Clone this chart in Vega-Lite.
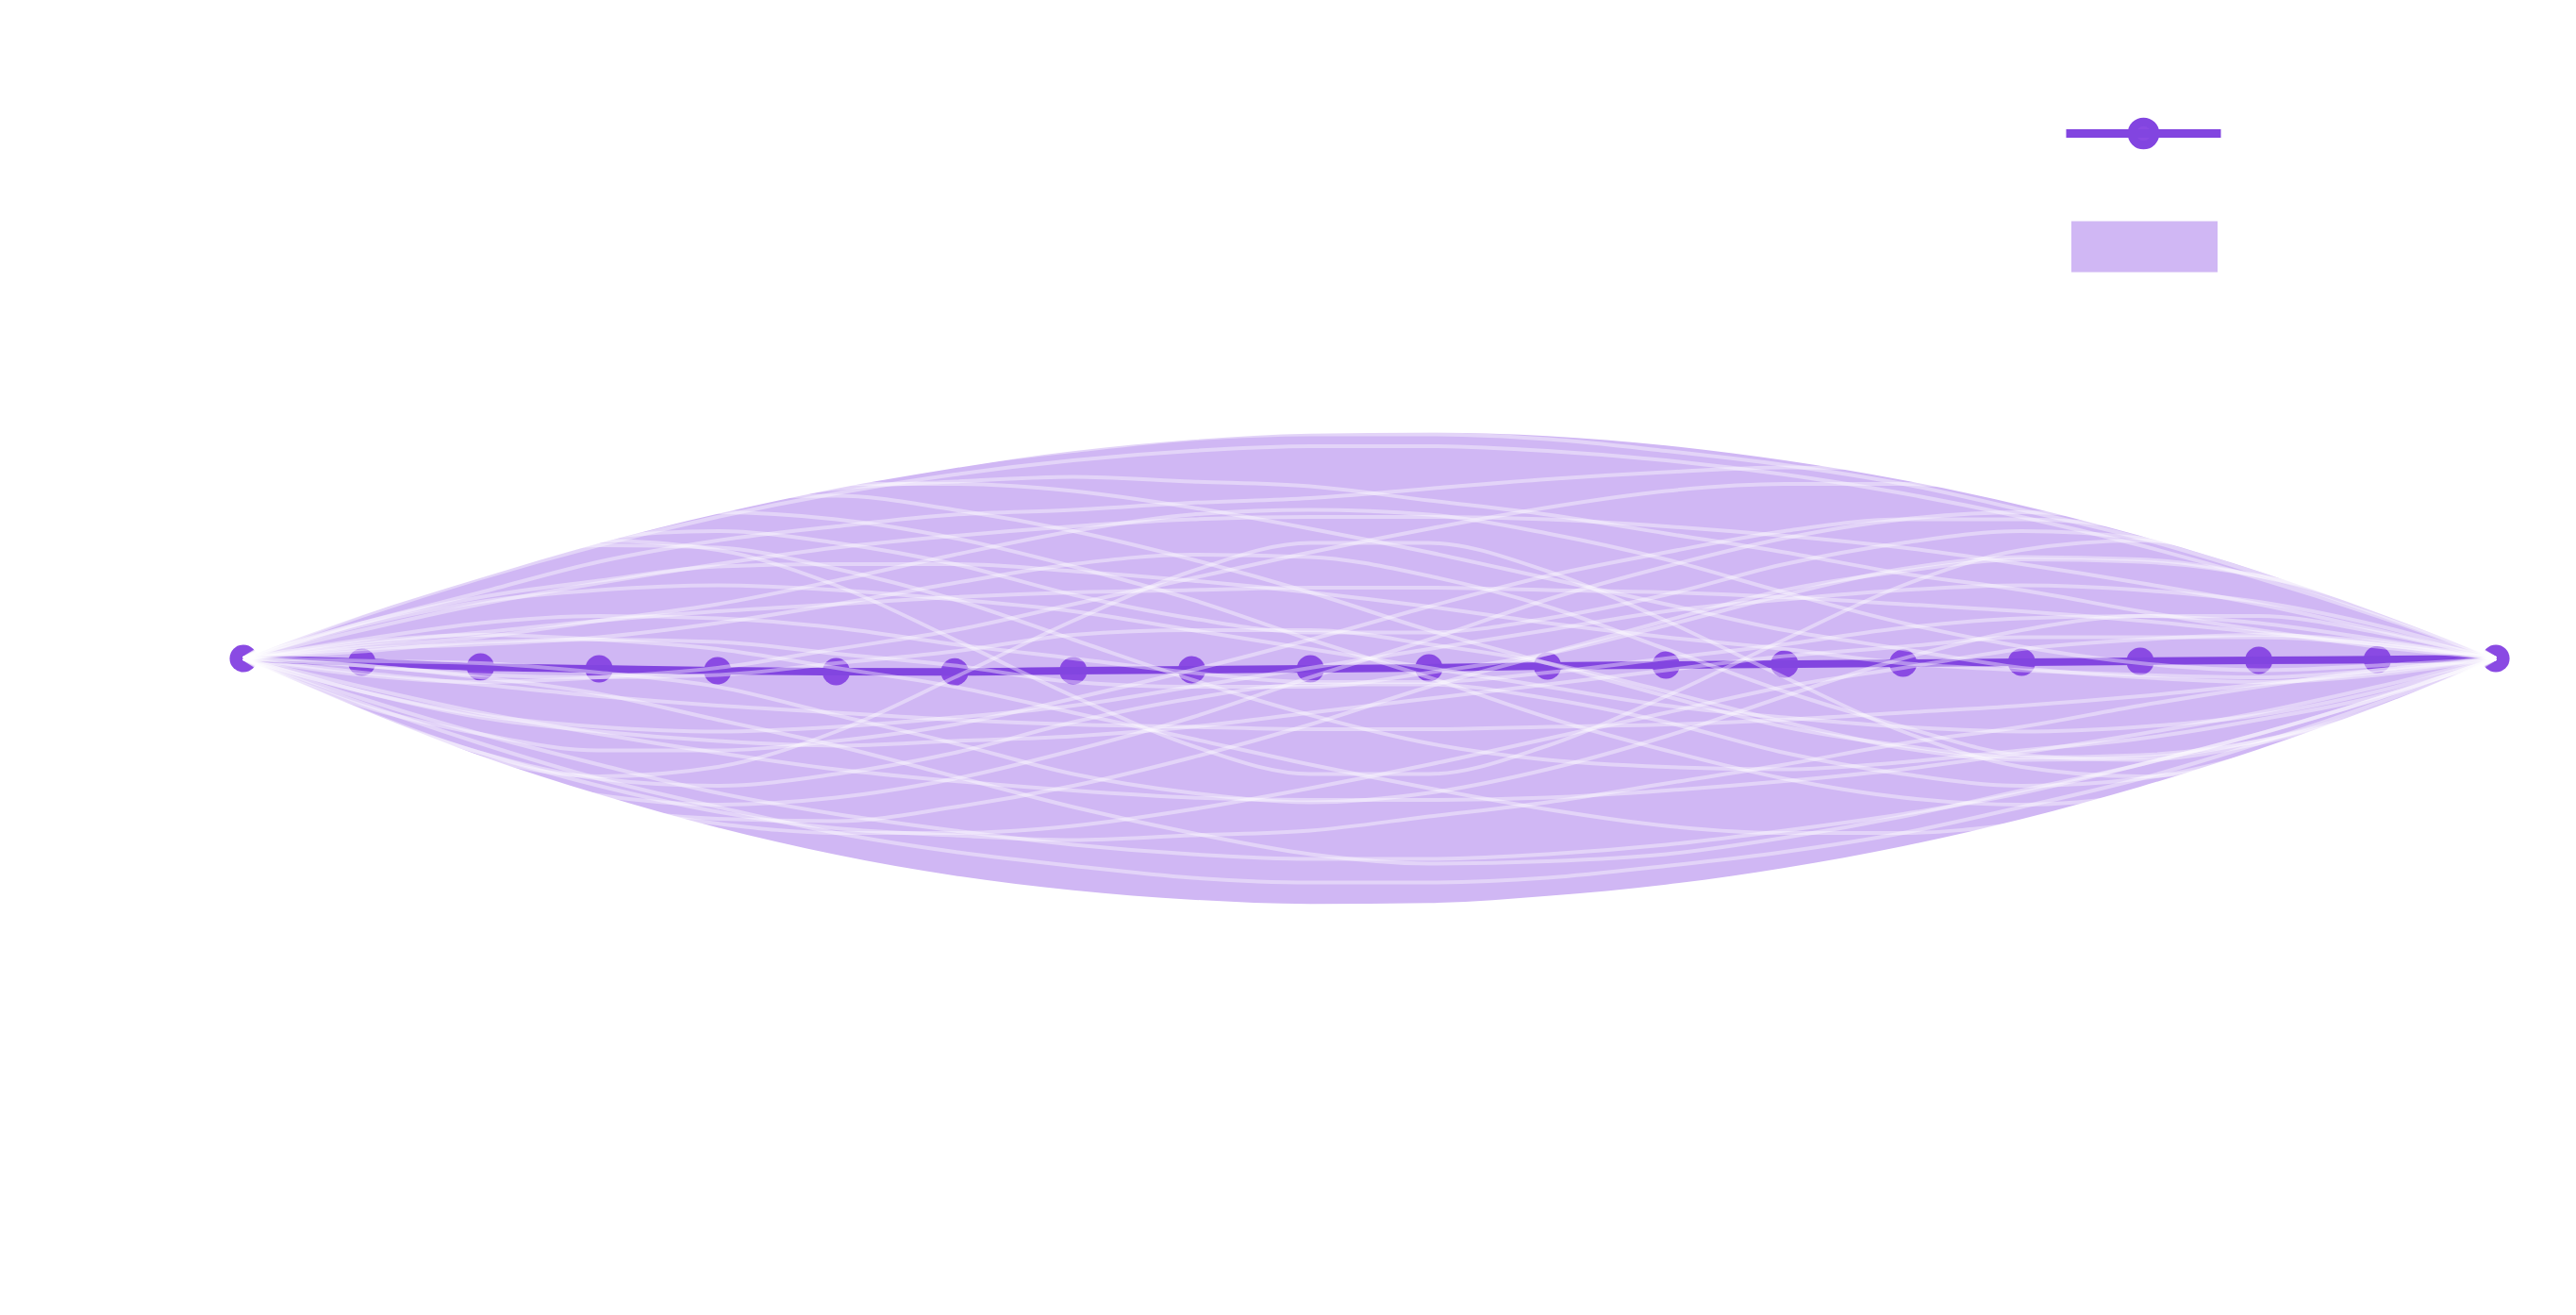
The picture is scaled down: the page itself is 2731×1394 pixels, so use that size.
{
  "$schema": "https://vega.github.io/schema/vega-lite/v6.json",
  "width": 2731,
  "height": 1394,
  "autosize": "none",
  "padding": 0,
  "background": "white",
  "config": {"view": {"stroke": null}},
  "datasets": {
    "band": [
      {"i":0,"mean":0,"lo":0,"hi":0},
      {"i":1,"mean":-0.016,"lo":-0.215,"hi":0.183},
      {"i":2,"mean":-0.036,"lo":-0.413,"hi":0.341},
      {"i":3,"mean":-0.044,"lo":-0.576,"hi":0.488},
      {"i":4,"mean":-0.052,"lo":-0.717,"hi":0.613},
      {"i":5,"mean":-0.056,"lo":-0.832,"hi":0.720},
      {"i":6,"mean":-0.057,"lo":-0.921,"hi":0.807},
      {"i":7,"mean":-0.052,"lo":-0.983,"hi":0.879},
      {"i":8,"mean":-0.048,"lo":-1.023,"hi":0.927},
      {"i":9,"mean":-0.044,"lo":-1.041,"hi":0.953},
      {"i":10,"mean":-0.040,"lo":-1.037,"hi":0.957},
      {"i":11,"mean":-0.032,"lo":-1.007,"hi":0.943},
      {"i":12,"mean":-0.028,"lo":-0.959,"hi":0.903},
      {"i":13,"mean":-0.024,"lo":-0.888,"hi":0.840},
      {"i":14,"mean":-0.020,"lo":-0.796,"hi":0.756},
      {"i":15,"mean":-0.016,"lo":-0.681,"hi":0.649},
      {"i":16,"mean":-0.012,"lo":-0.544,"hi":0.520},
      {"i":17,"mean":-0.008,"lo":-0.385,"hi":0.369},
      {"i":18,"mean":-0.005,"lo":-0.204,"hi":0.194},
      {"i":19,"mean":0,"lo":0,"hi":0}
    ],
    "samples": [
      {"s":1,"i":0,"v":0},{"s":1,"i":1,"v":0.18},{"s":1,"i":2,"v":0.34},{"s":1,"i":3,"v":0.48},{"s":1,"i":4,"v":0.60},{"s":1,"i":5,"v":0.70},{"s":1,"i":6,"v":0.78},{"s":1,"i":7,"v":0.84},{"s":1,"i":8,"v":0.88},{"s":1,"i":9,"v":0.90},{"s":1,"i":10,"v":0.90},{"s":1,"i":11,"v":0.88},{"s":1,"i":12,"v":0.84},{"s":1,"i":13,"v":0.78},{"s":1,"i":14,"v":0.70},{"s":1,"i":15,"v":0.60},{"s":1,"i":16,"v":0.48},{"s":1,"i":17,"v":0.34},{"s":1,"i":18,"v":0.18},{"s":1,"i":19,"v":0},
      {"s":2,"i":0,"v":0},{"s":2,"i":1,"v":0.12},{"s":2,"i":2,"v":0.23},{"s":2,"i":3,"v":0.32},{"s":2,"i":4,"v":0.40},{"s":2,"i":5,"v":0.47},{"s":2,"i":6,"v":0.52},{"s":2,"i":7,"v":0.56},{"s":2,"i":8,"v":0.59},{"s":2,"i":9,"v":0.60},{"s":2,"i":10,"v":0.60},{"s":2,"i":11,"v":0.59},{"s":2,"i":12,"v":0.56},{"s":2,"i":13,"v":0.52},{"s":2,"i":14,"v":0.47},{"s":2,"i":15,"v":0.40},{"s":2,"i":16,"v":0.32},{"s":2,"i":17,"v":0.23},{"s":2,"i":18,"v":0.12},{"s":2,"i":19,"v":0},
      {"s":3,"i":0,"v":0},{"s":3,"i":1,"v":0.06},{"s":3,"i":2,"v":0.11},{"s":3,"i":3,"v":0.16},{"s":3,"i":4,"v":0.20},{"s":3,"i":5,"v":0.23},{"s":3,"i":6,"v":0.26},{"s":3,"i":7,"v":0.28},{"s":3,"i":8,"v":0.29},{"s":3,"i":9,"v":0.30},{"s":3,"i":10,"v":0.30},{"s":3,"i":11,"v":0.29},{"s":3,"i":12,"v":0.28},{"s":3,"i":13,"v":0.26},{"s":3,"i":14,"v":0.23},{"s":3,"i":15,"v":0.20},{"s":3,"i":16,"v":0.16},{"s":3,"i":17,"v":0.11},{"s":3,"i":18,"v":0.06},{"s":3,"i":19,"v":0},
      {"s":4,"i":0,"v":0},{"s":4,"i":1,"v":-0.06},{"s":4,"i":2,"v":-0.11},{"s":4,"i":3,"v":-0.16},{"s":4,"i":4,"v":-0.20},{"s":4,"i":5,"v":-0.23},{"s":4,"i":6,"v":-0.26},{"s":4,"i":7,"v":-0.28},{"s":4,"i":8,"v":-0.29},{"s":4,"i":9,"v":-0.30},{"s":4,"i":10,"v":-0.30},{"s":4,"i":11,"v":-0.29},{"s":4,"i":12,"v":-0.28},{"s":4,"i":13,"v":-0.26},{"s":4,"i":14,"v":-0.23},{"s":4,"i":15,"v":-0.20},{"s":4,"i":16,"v":-0.16},{"s":4,"i":17,"v":-0.11},{"s":4,"i":18,"v":-0.06},{"s":4,"i":19,"v":0},
      {"s":5,"i":0,"v":0},{"s":5,"i":1,"v":-0.12},{"s":5,"i":2,"v":-0.23},{"s":5,"i":3,"v":-0.32},{"s":5,"i":4,"v":-0.40},{"s":5,"i":5,"v":-0.47},{"s":5,"i":6,"v":-0.52},{"s":5,"i":7,"v":-0.56},{"s":5,"i":8,"v":-0.59},{"s":5,"i":9,"v":-0.60},{"s":5,"i":10,"v":-0.60},{"s":5,"i":11,"v":-0.59},{"s":5,"i":12,"v":-0.56},{"s":5,"i":13,"v":-0.52},{"s":5,"i":14,"v":-0.47},{"s":5,"i":15,"v":-0.40},{"s":5,"i":16,"v":-0.32},{"s":5,"i":17,"v":-0.23},{"s":5,"i":18,"v":-0.12},{"s":5,"i":19,"v":0},
      {"s":6,"i":0,"v":0},{"s":6,"i":1,"v":-0.17},{"s":6,"i":2,"v":-0.32},{"s":6,"i":3,"v":-0.45},{"s":6,"i":4,"v":-0.57},{"s":6,"i":5,"v":-0.66},{"s":6,"i":6,"v":-0.73},{"s":6,"i":7,"v":-0.79},{"s":6,"i":8,"v":-0.83},{"s":6,"i":9,"v":-0.85},{"s":6,"i":10,"v":-0.85},{"s":6,"i":11,"v":-0.83},{"s":6,"i":12,"v":-0.79},{"s":6,"i":13,"v":-0.73},{"s":6,"i":14,"v":-0.66},{"s":6,"i":15,"v":-0.57},{"s":6,"i":16,"v":-0.45},{"s":6,"i":17,"v":-0.32},{"s":6,"i":18,"v":-0.17},{"s":6,"i":19,"v":0},
      {"s":7,"i":0,"v":0},{"s":7,"i":1,"v":0.29},{"s":7,"i":2,"v":0.48},{"s":7,"i":3,"v":0.58},{"s":7,"i":4,"v":0.62},{"s":7,"i":5,"v":0.59},{"s":7,"i":6,"v":0.51},{"s":7,"i":7,"v":0.39},{"s":7,"i":8,"v":0.25},{"s":7,"i":9,"v":0.08},{"s":7,"i":10,"v":-0.08},{"s":7,"i":11,"v":-0.25},{"s":7,"i":12,"v":-0.39},{"s":7,"i":13,"v":-0.51},{"s":7,"i":14,"v":-0.59},{"s":7,"i":15,"v":-0.62},{"s":7,"i":16,"v":-0.58},{"s":7,"i":17,"v":-0.48},{"s":7,"i":18,"v":-0.29},{"s":7,"i":19,"v":0},
      {"s":8,"i":0,"v":0},{"s":8,"i":1,"v":-0.29},{"s":8,"i":2,"v":-0.48},{"s":8,"i":3,"v":-0.58},{"s":8,"i":4,"v":-0.62},{"s":8,"i":5,"v":-0.59},{"s":8,"i":6,"v":-0.51},{"s":8,"i":7,"v":-0.39},{"s":8,"i":8,"v":-0.25},{"s":8,"i":9,"v":-0.08},{"s":8,"i":10,"v":0.08},{"s":8,"i":11,"v":0.25},{"s":8,"i":12,"v":0.39},{"s":8,"i":13,"v":0.51},{"s":8,"i":14,"v":0.59},{"s":8,"i":15,"v":0.62},{"s":8,"i":16,"v":0.58},{"s":8,"i":17,"v":0.48},{"s":8,"i":18,"v":0.29},{"s":8,"i":19,"v":0},
      {"s":9,"i":0,"v":0},{"s":9,"i":1,"v":0.14},{"s":9,"i":2,"v":0.24},{"s":9,"i":3,"v":0.29},{"s":9,"i":4,"v":0.31},{"s":9,"i":5,"v":0.29},{"s":9,"i":6,"v":0.25},{"s":9,"i":7,"v":0.20},{"s":9,"i":8,"v":0.12},{"s":9,"i":9,"v":0.04},{"s":9,"i":10,"v":-0.04},{"s":9,"i":11,"v":-0.12},{"s":9,"i":12,"v":-0.20},{"s":9,"i":13,"v":-0.25},{"s":9,"i":14,"v":-0.29},{"s":9,"i":15,"v":-0.31},{"s":9,"i":16,"v":-0.29},{"s":9,"i":17,"v":-0.24},{"s":9,"i":18,"v":-0.14},{"s":9,"i":19,"v":0},
      {"s":10,"i":0,"v":0},{"s":10,"i":1,"v":-0.14},{"s":10,"i":2,"v":-0.24},{"s":10,"i":3,"v":-0.29},{"s":10,"i":4,"v":-0.31},{"s":10,"i":5,"v":-0.29},{"s":10,"i":6,"v":-0.25},{"s":10,"i":7,"v":-0.20},{"s":10,"i":8,"v":-0.12},{"s":10,"i":9,"v":-0.04},{"s":10,"i":10,"v":0.04},{"s":10,"i":11,"v":0.12},{"s":10,"i":12,"v":0.20},{"s":10,"i":13,"v":0.25},{"s":10,"i":14,"v":0.29},{"s":10,"i":15,"v":0.31},{"s":10,"i":16,"v":0.29},{"s":10,"i":17,"v":0.24},{"s":10,"i":18,"v":0.14},{"s":10,"i":19,"v":0},
      {"s":11,"i":0,"v":0},{"s":11,"i":1,"v":0.27},{"s":11,"i":2,"v":0.48},{"s":11,"i":3,"v":0.62},{"s":11,"i":4,"v":0.70},{"s":11,"i":5,"v":0.74},{"s":11,"i":6,"v":0.74},{"s":11,"i":7,"v":0.71},{"s":11,"i":8,"v":0.64},{"s":11,"i":9,"v":0.55},{"s":11,"i":10,"v":0.45},{"s":11,"i":11,"v":0.34},{"s":11,"i":12,"v":0.23},{"s":11,"i":13,"v":0.12},{"s":11,"i":14,"v":0.04},{"s":11,"i":15,"v":-0.04},{"s":11,"i":16,"v":-0.08},{"s":11,"i":17,"v":-0.10},{"s":11,"i":18,"v":-0.07},{"s":11,"i":19,"v":0},
      {"s":12,"i":0,"v":0},{"s":12,"i":1,"v":-0.07},{"s":12,"i":2,"v":-0.10},{"s":12,"i":3,"v":-0.08},{"s":12,"i":4,"v":-0.04},{"s":12,"i":5,"v":0.04},{"s":12,"i":6,"v":0.12},{"s":12,"i":7,"v":0.23},{"s":12,"i":8,"v":0.34},{"s":12,"i":9,"v":0.45},{"s":12,"i":10,"v":0.55},{"s":12,"i":11,"v":0.64},{"s":12,"i":12,"v":0.71},{"s":12,"i":13,"v":0.74},{"s":12,"i":14,"v":0.74},{"s":12,"i":15,"v":0.70},{"s":12,"i":16,"v":0.62},{"s":12,"i":17,"v":0.48},{"s":12,"i":18,"v":0.27},{"s":12,"i":19,"v":0},
      {"s":13,"i":0,"v":0},{"s":13,"i":1,"v":0.07},{"s":13,"i":2,"v":0.10},{"s":13,"i":3,"v":0.08},{"s":13,"i":4,"v":0.04},{"s":13,"i":5,"v":-0.04},{"s":13,"i":6,"v":-0.12},{"s":13,"i":7,"v":-0.23},{"s":13,"i":8,"v":-0.34},{"s":13,"i":9,"v":-0.45},{"s":13,"i":10,"v":-0.55},{"s":13,"i":11,"v":-0.64},{"s":13,"i":12,"v":-0.71},{"s":13,"i":13,"v":-0.74},{"s":13,"i":14,"v":-0.74},{"s":13,"i":15,"v":-0.70},{"s":13,"i":16,"v":-0.62},{"s":13,"i":17,"v":-0.48},{"s":13,"i":18,"v":-0.27},{"s":13,"i":19,"v":0},
      {"s":14,"i":0,"v":0},{"s":14,"i":1,"v":-0.27},{"s":14,"i":2,"v":-0.48},{"s":14,"i":3,"v":-0.62},{"s":14,"i":4,"v":-0.70},{"s":14,"i":5,"v":-0.74},{"s":14,"i":6,"v":-0.74},{"s":14,"i":7,"v":-0.71},{"s":14,"i":8,"v":-0.64},{"s":14,"i":9,"v":-0.55},{"s":14,"i":10,"v":-0.45},{"s":14,"i":11,"v":-0.34},{"s":14,"i":12,"v":-0.23},{"s":14,"i":13,"v":-0.12},{"s":14,"i":14,"v":-0.04},{"s":14,"i":15,"v":0.04},{"s":14,"i":16,"v":0.08},{"s":14,"i":17,"v":0.10},{"s":14,"i":18,"v":0.07},{"s":14,"i":19,"v":0},
      {"s":15,"i":0,"v":0},{"s":15,"i":1,"v":0.30},{"s":15,"i":2,"v":0.51},{"s":15,"i":3,"v":0.63},{"s":15,"i":4,"v":0.68},{"s":15,"i":5,"v":0.69},{"s":15,"i":6,"v":0.63},{"s":15,"i":7,"v":0.54},{"s":15,"i":8,"v":0.42},{"s":15,"i":9,"v":0.28},{"s":15,"i":10,"v":0.12},{"s":15,"i":11,"v":-0.02},{"s":15,"i":12,"v":-0.16},{"s":15,"i":13,"v":-0.29},{"s":15,"i":14,"v":-0.37},{"s":15,"i":15,"v":-0.42},{"s":15,"i":16,"v":-0.41},{"s":15,"i":17,"v":-0.35},{"s":15,"i":18,"v":-0.22},{"s":15,"i":19,"v":0},
      {"s":16,"i":0,"v":0},{"s":16,"i":1,"v":-0.30},{"s":16,"i":2,"v":-0.51},{"s":16,"i":3,"v":-0.63},{"s":16,"i":4,"v":-0.68},{"s":16,"i":5,"v":-0.69},{"s":16,"i":6,"v":-0.63},{"s":16,"i":7,"v":-0.54},{"s":16,"i":8,"v":-0.42},{"s":16,"i":9,"v":-0.28},{"s":16,"i":10,"v":-0.12},{"s":16,"i":11,"v":0.02},{"s":16,"i":12,"v":0.16},{"s":16,"i":13,"v":0.29},{"s":16,"i":14,"v":0.37},{"s":16,"i":15,"v":0.42},{"s":16,"i":16,"v":0.41},{"s":16,"i":17,"v":0.35},{"s":16,"i":18,"v":0.22},{"s":16,"i":19,"v":0},
      {"s":17,"i":0,"v":0},{"s":17,"i":1,"v":0.24},{"s":17,"i":2,"v":0.42},{"s":17,"i":3,"v":0.50},{"s":17,"i":4,"v":0.46},{"s":17,"i":5,"v":0.31},{"s":17,"i":6,"v":0.08},{"s":17,"i":7,"v":-0.16},{"s":17,"i":8,"v":-0.37},{"s":17,"i":9,"v":-0.49},{"s":17,"i":10,"v":-0.49},{"s":17,"i":11,"v":-0.37},{"s":17,"i":12,"v":-0.16},{"s":17,"i":13,"v":0.08},{"s":17,"i":14,"v":0.31},{"s":17,"i":15,"v":0.46},{"s":17,"i":16,"v":0.50},{"s":17,"i":17,"v":0.42},{"s":17,"i":18,"v":0.24},{"s":17,"i":19,"v":0},
      {"s":18,"i":0,"v":0},{"s":18,"i":1,"v":-0.24},{"s":18,"i":2,"v":-0.42},{"s":18,"i":3,"v":-0.50},{"s":18,"i":4,"v":-0.46},{"s":18,"i":5,"v":-0.31},{"s":18,"i":6,"v":-0.08},{"s":18,"i":7,"v":0.16},{"s":18,"i":8,"v":0.37},{"s":18,"i":9,"v":0.49},{"s":18,"i":10,"v":0.49},{"s":18,"i":11,"v":0.37},{"s":18,"i":12,"v":0.16},{"s":18,"i":13,"v":-0.08},{"s":18,"i":14,"v":-0.31},{"s":18,"i":15,"v":-0.46},{"s":18,"i":16,"v":-0.50},{"s":18,"i":17,"v":-0.42},{"s":18,"i":18,"v":-0.24},{"s":18,"i":19,"v":0},
      {"s":19,"i":0,"v":0},{"s":19,"i":1,"v":0.22},{"s":19,"i":2,"v":0.40},{"s":19,"i":3,"v":0.51},{"s":19,"i":4,"v":0.54},{"s":19,"i":5,"v":0.49},{"s":19,"i":6,"v":0.40},{"s":19,"i":7,"v":0.27},{"s":19,"i":8,"v":0.17},{"s":19,"i":9,"v":0.11},{"s":19,"i":10,"v":0.11},{"s":19,"i":11,"v":0.17},{"s":19,"i":12,"v":0.27},{"s":19,"i":13,"v":0.40},{"s":19,"i":14,"v":0.49},{"s":19,"i":15,"v":0.54},{"s":19,"i":16,"v":0.51},{"s":19,"i":17,"v":0.40},{"s":19,"i":18,"v":0.22},{"s":19,"i":19,"v":0},
      {"s":20,"i":0,"v":0},{"s":20,"i":1,"v":-0.22},{"s":20,"i":2,"v":-0.40},{"s":20,"i":3,"v":-0.51},{"s":20,"i":4,"v":-0.54},{"s":20,"i":5,"v":-0.49},{"s":20,"i":6,"v":-0.40},{"s":20,"i":7,"v":-0.27},{"s":20,"i":8,"v":-0.17},{"s":20,"i":9,"v":-0.11},{"s":20,"i":10,"v":-0.11},{"s":20,"i":11,"v":-0.17},{"s":20,"i":12,"v":-0.27},{"s":20,"i":13,"v":-0.40},{"s":20,"i":14,"v":-0.49},{"s":20,"i":15,"v":-0.54},{"s":20,"i":16,"v":-0.51},{"s":20,"i":17,"v":-0.40},{"s":20,"i":18,"v":-0.22},{"s":20,"i":19,"v":0},
      {"s":21,"i":0,"v":0},{"s":21,"i":1,"v":0.23},{"s":21,"i":2,"v":0.40},{"s":21,"i":3,"v":0.54},{"s":21,"i":4,"v":0.65},{"s":21,"i":5,"v":0.72},{"s":21,"i":6,"v":0.75},{"s":21,"i":7,"v":0.77},{"s":21,"i":8,"v":0.75},{"s":21,"i":9,"v":0.73},{"s":21,"i":10,"v":0.67},{"s":21,"i":11,"v":0.61},{"s":21,"i":12,"v":0.53},{"s":21,"i":13,"v":0.45},{"s":21,"i":14,"v":0.36},{"s":21,"i":15,"v":0.29},{"s":21,"i":16,"v":0.20},{"s":21,"i":17,"v":0.12},{"s":21,"i":18,"v":0.05},{"s":21,"i":19,"v":0},
      {"s":22,"i":0,"v":0},{"s":22,"i":1,"v":-0.23},{"s":22,"i":2,"v":-0.40},{"s":22,"i":3,"v":-0.54},{"s":22,"i":4,"v":-0.65},{"s":22,"i":5,"v":-0.72},{"s":22,"i":6,"v":-0.75},{"s":22,"i":7,"v":-0.77},{"s":22,"i":8,"v":-0.75},{"s":22,"i":9,"v":-0.73},{"s":22,"i":10,"v":-0.67},{"s":22,"i":11,"v":-0.61},{"s":22,"i":12,"v":-0.53},{"s":22,"i":13,"v":-0.45},{"s":22,"i":14,"v":-0.36},{"s":22,"i":15,"v":-0.29},{"s":22,"i":16,"v":-0.20},{"s":22,"i":17,"v":-0.12},{"s":22,"i":18,"v":-0.05},{"s":22,"i":19,"v":0},
      {"s":23,"i":0,"v":0},{"s":23,"i":1,"v":0.03},{"s":23,"i":2,"v":0.07},{"s":23,"i":3,"v":0.08},{"s":23,"i":4,"v":0.07},{"s":23,"i":5,"v":0.02},{"s":23,"i":6,"v":-0.03},{"s":23,"i":7,"v":-0.10},{"s":23,"i":8,"v":-0.12},{"s":23,"i":9,"v":-0.12},{"s":23,"i":10,"v":-0.06},{"s":23,"i":11,"v":0.02},{"s":23,"i":12,"v":0.14},{"s":23,"i":13,"v":0.27},{"s":23,"i":14,"v":0.38},{"s":23,"i":15,"v":0.43},{"s":23,"i":16,"v":0.42},{"s":23,"i":17,"v":0.35},{"s":23,"i":18,"v":0.21},{"s":23,"i":19,"v":0},
      {"s":24,"i":0,"v":0},{"s":24,"i":1,"v":-0.03},{"s":24,"i":2,"v":-0.07},{"s":24,"i":3,"v":-0.08},{"s":24,"i":4,"v":-0.07},{"s":24,"i":5,"v":-0.02},{"s":24,"i":6,"v":0.03},{"s":24,"i":7,"v":0.10},{"s":24,"i":8,"v":0.12},{"s":24,"i":9,"v":0.12},{"s":24,"i":10,"v":0.06},{"s":24,"i":11,"v":-0.02},{"s":24,"i":12,"v":-0.14},{"s":24,"i":13,"v":-0.27},{"s":24,"i":14,"v":-0.38},{"s":24,"i":15,"v":-0.43},{"s":24,"i":16,"v":-0.42},{"s":24,"i":17,"v":-0.35},{"s":24,"i":18,"v":-0.21},{"s":24,"i":19,"v":0},
      {"s":25,"i":0,"v":0},{"s":25,"i":1,"v":0.15},{"s":25,"i":2,"v":0.28},{"s":25,"i":3,"v":0.41},{"s":25,"i":4,"v":0.50},{"s":25,"i":5,"v":0.56},{"s":25,"i":6,"v":0.61},{"s":25,"i":7,"v":0.63},{"s":25,"i":8,"v":0.66},{"s":25,"i":9,"v":0.68},{"s":25,"i":10,"v":0.72},{"s":25,"i":11,"v":0.76},{"s":25,"i":12,"v":0.79},{"s":25,"i":13,"v":0.81},{"s":25,"i":14,"v":0.80},{"s":25,"i":15,"v":0.74},{"s":25,"i":16,"v":0.65},{"s":25,"i":17,"v":0.48},{"s":25,"i":18,"v":0.27},{"s":25,"i":19,"v":0},
      {"s":26,"i":0,"v":0},{"s":26,"i":1,"v":-0.03},{"s":26,"i":2,"v":-0.08},{"s":26,"i":3,"v":-0.15},{"s":26,"i":4,"v":-0.26},{"s":26,"i":5,"v":-0.37},{"s":26,"i":6,"v":-0.50},{"s":26,"i":7,"v":-0.63},{"s":26,"i":8,"v":-0.74},{"s":26,"i":9,"v":-0.83},{"s":26,"i":10,"v":-0.87},{"s":26,"i":11,"v":-0.86},{"s":26,"i":12,"v":-0.83},{"s":26,"i":13,"v":-0.76},{"s":26,"i":14,"v":-0.67},{"s":26,"i":15,"v":-0.56},{"s":26,"i":16,"v":-0.45},{"s":26,"i":17,"v":-0.32},{"s":26,"i":18,"v":-0.17},{"s":26,"i":19,"v":0},
      {"s":27,"i":0,"v":0},{"s":27,"i":1,"v":0.04},{"s":27,"i":2,"v":0.06},{"s":27,"i":3,"v":0.09},{"s":27,"i":4,"v":0.15},{"s":27,"i":5,"v":0.23},{"s":27,"i":6,"v":0.32},{"s":27,"i":7,"v":0.40},{"s":27,"i":8,"v":0.44},{"s":27,"i":9,"v":0.43},{"s":27,"i":10,"v":0.35},{"s":27,"i":11,"v":0.22},{"s":27,"i":12,"v":0.04},{"s":27,"i":13,"v":-0.14},{"s":27,"i":14,"v":-0.29},{"s":27,"i":15,"v":-0.41},{"s":27,"i":16,"v":-0.43},{"s":27,"i":17,"v":-0.36},{"s":27,"i":18,"v":-0.22},{"s":27,"i":19,"v":0},
      {"s":28,"i":0,"v":0},{"s":28,"i":1,"v":-0.01},{"s":28,"i":2,"v":-0.02},{"s":28,"i":3,"v":-0.06},{"s":28,"i":4,"v":-0.12},{"s":28,"i":5,"v":-0.24},{"s":28,"i":6,"v":-0.36},{"s":28,"i":7,"v":-0.49},{"s":28,"i":8,"v":-0.57},{"s":28,"i":9,"v":-0.61},{"s":28,"i":10,"v":-0.57},{"s":28,"i":11,"v":-0.47},{"s":28,"i":12,"v":-0.33},{"s":28,"i":13,"v":-0.16},{"s":28,"i":14,"v":0.00},{"s":28,"i":15,"v":0.12},{"s":28,"i":16,"v":0.18},{"s":28,"i":17,"v":0.18},{"s":28,"i":18,"v":0.11},{"s":28,"i":19,"v":0},
      {"s":29,"i":0,"v":0},{"s":29,"i":1,"v":0.05},{"s":29,"i":2,"v":0.09},{"s":29,"i":3,"v":0.16},{"s":29,"i":4,"v":0.23},{"s":29,"i":5,"v":0.33},{"s":29,"i":6,"v":0.44},{"s":29,"i":7,"v":0.54},{"s":29,"i":8,"v":0.61},{"s":29,"i":9,"v":0.63},{"s":29,"i":10,"v":0.61},{"s":29,"i":11,"v":0.53},{"s":29,"i":12,"v":0.42},{"s":29,"i":13,"v":0.28},{"s":29,"i":14,"v":0.15},{"s":29,"i":15,"v":0.05},{"s":29,"i":16,"v":-0.02},{"s":29,"i":17,"v":-0.05},{"s":29,"i":18,"v":-0.03},{"s":29,"i":19,"v":0},
      {"s":30,"i":0,"v":0},{"s":30,"i":1,"v":0.24},{"s":30,"i":2,"v":0.40},{"s":30,"i":3,"v":0.48},{"s":30,"i":4,"v":0.47},{"s":30,"i":5,"v":0.38},{"s":30,"i":6,"v":0.25},{"s":30,"i":7,"v":0.08},{"s":30,"i":8,"v":-0.09},{"s":30,"i":9,"v":-0.24},{"s":30,"i":10,"v":-0.36},{"s":30,"i":11,"v":-0.43},{"s":30,"i":12,"v":-0.46},{"s":30,"i":13,"v":-0.47},{"s":30,"i":14,"v":-0.44},{"s":30,"i":15,"v":-0.39},{"s":30,"i":16,"v":-0.34},{"s":30,"i":17,"v":-0.26},{"s":30,"i":18,"v":-0.16},{"s":30,"i":19,"v":0},
      {"s":31,"i":0,"v":0},{"s":31,"i":1,"v":-0.20},{"s":31,"i":2,"v":-0.32},{"s":31,"i":3,"v":-0.39},{"s":31,"i":4,"v":-0.39},{"s":31,"i":5,"v":-0.35},{"s":31,"i":6,"v":-0.28},{"s":31,"i":7,"v":-0.17},{"s":31,"i":8,"v":-0.05},{"s":31,"i":9,"v":0.08},{"s":31,"i":10,"v":0.22},{"s":31,"i":11,"v":0.35},{"s":31,"i":12,"v":0.45},{"s":31,"i":13,"v":0.54},{"s":31,"i":14,"v":0.59},{"s":31,"i":15,"v":0.59},{"s":31,"i":16,"v":0.55},{"s":31,"i":17,"v":0.44},{"s":31,"i":18,"v":0.26},{"s":31,"i":19,"v":0},
      {"s":32,"i":0,"v":0},{"s":32,"i":1,"v":0.19},{"s":32,"i":2,"v":0.36},{"s":32,"i":3,"v":0.51},{"s":32,"i":4,"v":0.63},{"s":32,"i":5,"v":0.74},{"s":32,"i":6,"v":0.82},{"s":32,"i":7,"v":0.88},{"s":32,"i":8,"v":0.93},{"s":32,"i":9,"v":0.95},{"s":32,"i":10,"v":0.95},{"s":32,"i":11,"v":0.93},{"s":32,"i":12,"v":0.88},{"s":32,"i":13,"v":0.82},{"s":32,"i":14,"v":0.74},{"s":32,"i":15,"v":0.63},{"s":32,"i":16,"v":0.51},{"s":32,"i":17,"v":0.36},{"s":32,"i":18,"v":0.19},{"s":32,"i":19,"v":0},
      {"s":33,"i":0,"v":0},{"s":33,"i":1,"v":-0.19},{"s":33,"i":2,"v":-0.36},{"s":33,"i":3,"v":-0.51},{"s":33,"i":4,"v":-0.63},{"s":33,"i":5,"v":-0.74},{"s":33,"i":6,"v":-0.82},{"s":33,"i":7,"v":-0.88},{"s":33,"i":8,"v":-0.93},{"s":33,"i":9,"v":-0.95},{"s":33,"i":10,"v":-0.95},{"s":33,"i":11,"v":-0.93},{"s":33,"i":12,"v":-0.88},{"s":33,"i":13,"v":-0.82},{"s":33,"i":14,"v":-0.74},{"s":33,"i":15,"v":-0.63},{"s":33,"i":16,"v":-0.51},{"s":33,"i":17,"v":-0.36},{"s":33,"i":18,"v":-0.19},{"s":33,"i":19,"v":0},
      {"s":34,"i":0,"v":0},{"s":34,"i":1,"v":0.08},{"s":34,"i":2,"v":0.15},{"s":34,"i":3,"v":0.18},{"s":34,"i":4,"v":0.17},{"s":34,"i":5,"v":0.13},{"s":34,"i":6,"v":0.06},{"s":34,"i":7,"v":0.00},{"s":34,"i":8,"v":-0.06},{"s":34,"i":9,"v":-0.10},{"s":34,"i":10,"v":-0.10},{"s":34,"i":11,"v":-0.06},{"s":34,"i":12,"v":0.00},{"s":34,"i":13,"v":0.06},{"s":34,"i":14,"v":0.13},{"s":34,"i":15,"v":0.17},{"s":34,"i":16,"v":0.18},{"s":34,"i":17,"v":0.15},{"s":34,"i":18,"v":0.08},{"s":34,"i":19,"v":0},
      {"s":35,"i":0,"v":0},{"s":35,"i":1,"v":-0.14},{"s":35,"i":2,"v":-0.25},{"s":35,"i":3,"v":-0.31},{"s":35,"i":4,"v":-0.35},{"s":35,"i":5,"v":-0.37},{"s":35,"i":6,"v":-0.35},{"s":35,"i":7,"v":-0.33},{"s":35,"i":8,"v":-0.29},{"s":35,"i":9,"v":-0.23},{"s":35,"i":10,"v":-0.17},{"s":35,"i":11,"v":-0.11},{"s":35,"i":12,"v":-0.05},{"s":35,"i":13,"v":0.01},{"s":35,"i":14,"v":0.05},{"s":35,"i":15,"v":0.09},{"s":35,"i":16,"v":0.09},{"s":35,"i":17,"v":0.09},{"s":35,"i":18,"v":0.06},{"s":35,"i":19,"v":0},
      {"s":36,"i":0,"v":0},{"s":36,"i":1,"v":0.15},{"s":36,"i":2,"v":0.26},{"s":36,"i":3,"v":0.33},{"s":36,"i":4,"v":0.39},{"s":36,"i":5,"v":0.40},{"s":36,"i":6,"v":0.40},{"s":36,"i":7,"v":0.37},{"s":36,"i":8,"v":0.33},{"s":36,"i":9,"v":0.28},{"s":36,"i":10,"v":0.22},{"s":36,"i":11,"v":0.15},{"s":36,"i":12,"v":0.09},{"s":36,"i":13,"v":0.04},{"s":36,"i":14,"v":-0.02},{"s":36,"i":15,"v":-0.05},{"s":36,"i":16,"v":-0.07},{"s":36,"i":17,"v":-0.08},{"s":36,"i":18,"v":-0.05},{"s":36,"i":19,"v":0}
    ]
  },
  "encoding": {
    "x": {"field": "i", "type": "quantitative", "axis": null, "scale": {"domain": [-2.053, 19.676], "nice": false, "zero": false}}
  },
  "layer": [
    {
      "data": {"name": "band"},
      "mark": {"type": "area", "interpolate": "monotone"},
      "encoding": {
        "y": {"field": "lo", "type": "quantitative", "axis": null, "scale": {"domain": [-2.784, 2.792], "nice": false, "zero": false}},
        "y2": {"field": "hi"},
        "fill": {
          "datum": "Band",
          "scale": {"range": ["#d0b7f4"]},
          "legend": {
            "title": null,
            "orient": "none",
            "legendX": 2196,
            "legendY": 184,
            "padding": 0,
            "symbolType": "M-1,-0.348H1V0.348H-1Z",
            "symbolSize": 24025,
            "symbolStrokeWidth": 0,
            "symbolOpacity": 1,
            "labelColor": "white",
            "labelFontSize": 22,
            "labelFont": "Open Sans"
          }
        }
      }
    },
    {
      "data": {"name": "band"},
      "mark": {"type": "point", "filled": true, "size": 850, "opacity": 1, "color": "#8a4ae3"},
      "encoding": {
        "y": {"field": "mean", "type": "quantitative"}
      }
    },
    {
      "data": {"name": "band"},
      "mark": {"type": "line", "interpolate": "monotone", "strokeWidth": 8},
      "encoding": {
        "y": {"field": "mean", "type": "quantitative"},
        "stroke": {
          "datum": "Mean",
          "scale": {"range": ["#8245e0"]},
          "legend": {
            "title": null,
            "orient": "none",
            "legendX": 2186,
            "legendY": 55,
            "padding": 0,
            "symbolType": "M-1,0H1M0.15,0A0.15,0.15,0,1,1,-0.15,0A0.15,0.15,0,1,1,0.15,0Z",
            "symbolSize": 26896,
            "symbolStrokeWidth": 9,
            "symbolFillColor": "#8a4ae3",
            "symbolOpacity": 1,
            "labelColor": "white",
            "labelFontSize": 22,
            "labelFont": "Open Sans"
          }
        }
      }
    },
    {
      "data": {"name": "samples"},
      "mark": {"type": "line", "interpolate": "monotone", "strokeWidth": 4, "color": "white", "opacity": 0.4},
      "encoding": {
        "y": {"field": "v", "type": "quantitative"},
        "detail": {"field": "s", "type": "nominal"}
      }
    }
  ]
}
